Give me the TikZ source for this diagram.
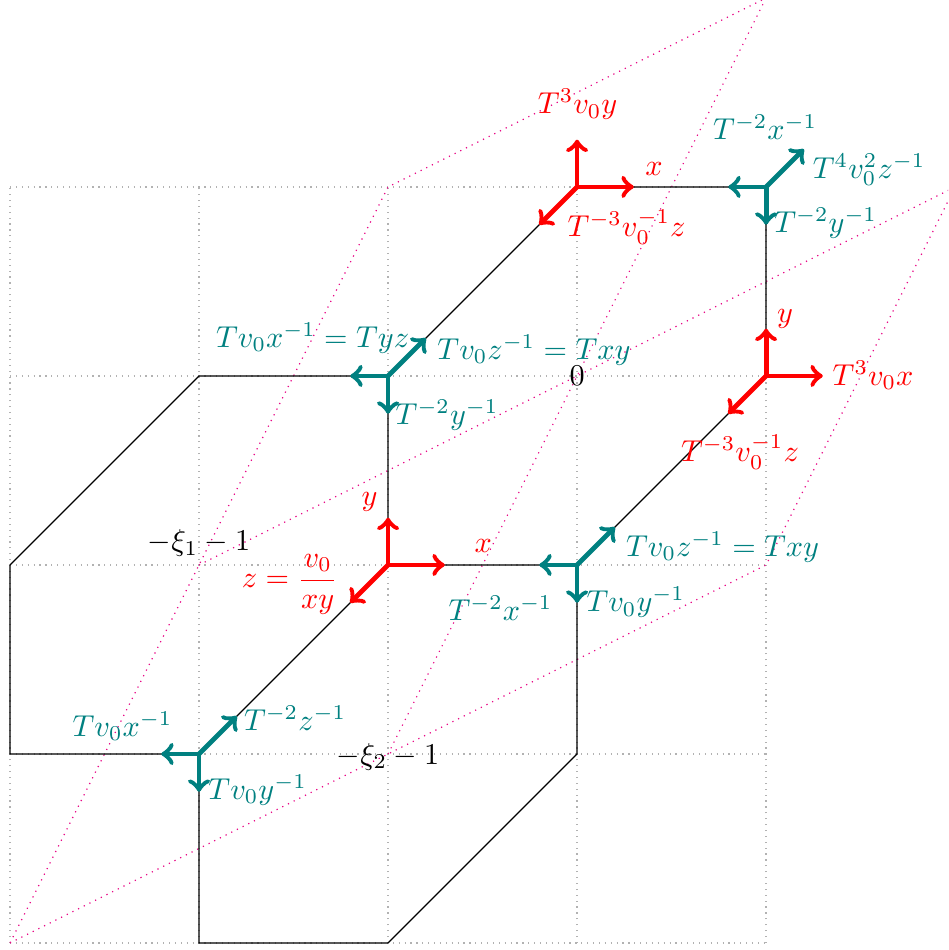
\documentclass[tikz,border=0pt]{standalone}
\usepackage{amsmath,amssymb}
\usetikzlibrary{calc}
\definecolor{dualpink}{RGB}{232,10,135}
\tikzset{
  gridline/.style={gray!60, line width=0.4pt, dash pattern=on 0.4pt off 1.55pt},
  dualline/.style={dualpink, line width=0.4pt, dash pattern=on 0.4pt off 1.7pt},
  edge/.style={black, line width=0.4pt},
  redarrow/.style={->, red, ultra thick},
  tealarrow/.style={->, teal, ultra thick},
  redlab/.style={text=red, inner sep=0pt},
  teallab/.style={text=teal, inner sep=0pt},
  ptlab/.style={text=black, inner sep=0pt}
}

\begin{document}
\begin{tikzpicture}[x=2.2cm,y=2.2cm]
  \useasboundingbox (-0.053,-0.037) rectangle (4.963,4.989);
  \draw[gridline, step=2.2cm] (0,0) grid (4,4);

  \coordinate (p0) at (0,0);
  \coordinate (p1) at (2,1);
  \coordinate (p2) at (4,2);
  \coordinate (q1) at (1,2);
  \coordinate (q2) at (2,4);
  \coordinate (pq) at (6,6);
  \coordinate (m1) at (4,5);
  \coordinate (m2) at (5,4);
  \begin{scope}
    \clip (-0.053,-0.037) rectangle (4.963,4.989);
    \draw[dualline] (p0) -- (p2) -- (pq) -- (q2) -- cycle;
    \draw[dualline] (p1) -- (m1);
    \draw[dualline] (q1) -- (m2);
  \end{scope}

  \coordinate (r1) at (3,4);
  \coordinate (r2) at (4,3);
  \coordinate (r3) at (2,2);
  \coordinate (t1) at (4,4);
  \coordinate (t2) at (2,3);
  \coordinate (t3) at (3,2);
  \coordinate (t4) at (1,1);
  \coordinate (h1) at (1,3);
  \coordinate (h2) at (0,2);
  \coordinate (h3) at (0,1);
  \coordinate (h4) at (1,0);
  \coordinate (h5) at (2,0);
  \coordinate (h6) at (3,1);

  \draw[edge] (r1) -- (t1) -- (r2) -- (t3) -- (r3) -- (t2) -- (r1);
  \draw[edge] (t2) -- (h1) -- (h2) -- (h3) -- (t4) -- (r3);
  \draw[edge] (t4) -- (h4) -- (h5) -- (h6) -- (t3);

  \foreach \v in {r1,r2,r3} {
    \coordinate (\v up) at ($(\v)+(0,0.25)$);
    \coordinate (\v rt) at ($(\v)+(0.3,0)$);
    \coordinate (\v dl) at ($(\v)+(-0.2,-0.2)$);
    \draw[redarrow] (\v) -- (\v up);
    \draw[redarrow] (\v) -- (\v rt);
    \draw[redarrow] (\v) -- (\v dl);
  }
  \foreach \v in {t1,t2,t3,t4} {
    \coordinate (\v lt) at ($(\v)+(-0.2,0)$);
    \coordinate (\v dn) at ($(\v)+(0,-0.2)$);
    \coordinate (\v ur) at ($(\v)+(0.2,0.2)$);
    \draw[tealarrow] (\v) -- (\v lt);
    \draw[tealarrow] (\v) -- (\v dn);
    \draw[tealarrow] (\v) -- (\v ur);
  }

  \node[redlab] (r1upl) at (3.003,4.437) {$T^3v_0y$};
  \node[redlab] (r1rtl) at (3.407,4.095) {$x$};
  \node[redlab] (r1dll) at (3.262,3.788) {$T^{-3}v_0^{-1}z$};
  \node[redlab] (r2upl) at (4.101,3.302) {$y$};
  \node[redlab] (r2rtl) at (4.566,3.003) {$T^3v_0x$};
  \node[redlab] (r2dll) at (3.862,2.595) {$T^{-3}v_0^{-1}z$};
  \node[redlab] (r3upl) at (1.902,2.331) {$y$};
  \node[redlab] (r3rtl) at (2.503,2.098) {$x$};
  \node[redlab] (r3dll) at (1.481,1.897) {$z=\dfrac{v_0}{xy}$};

  \node[teallab] (t1ltl) at (3.995,4.315) {$T^{-2}x^{-1}$};
  \node[teallab] (t1url) at (4.545,4.090) {$T^4v_0^2z^{-1}$};
  \node[teallab] (t1dnl) at (4.315,3.810) {$T^{-2}y^{-1}$};
  \node[teallab] (t2ltl) at (1.601,3.201) {$Tv_0x^{-1}=Tyz$};
  \node[teallab] (t2url) at (2.772,3.138) {$Tv_0z^{-1}=Txy$};
  \node[teallab] (t2dnl) at (2.312,2.794) {$T^{-2}y^{-1}$};
  \node[teallab] (t3ltl) at (2.595,1.770) {$T^{-2}x^{-1}$};
  \node[teallab] (t3url) at (3.770,2.095) {$Tv_0z^{-1}=Txy$};
  \node[teallab] (t3dnl) at (3.310,1.802) {$Tv_0y^{-1}$};
  \node[teallab] (t4ltl) at (0.595,1.146) {$Tv_0x^{-1}$};
  \node[teallab] (t4url) at (1.508,1.188) {$T^{-2}z^{-1}$};
  \node[teallab] (t4dnl) at (1.310,0.810) {$Tv_0y^{-1}$};

  \node[ptlab] (xi1) at (1.0,2.115) {$-\xi_1-1$};
  \node[ptlab] (xi2) at (2.0,0.985) {$-\xi_2-1$};
  \node[ptlab] (zero) at (3,3) {$0$};
\end{tikzpicture}
\end{document}
